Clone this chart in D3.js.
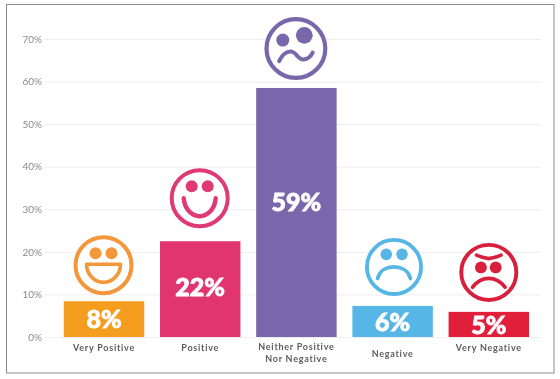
<!DOCTYPE html>
<html>
<head>
<meta charset="utf-8">
<script src="https://cdn.jsdelivr.net/npm/d3@7"></script>
<style>
	html, body {margin: 0; padding: 0; background: #fff;}
	svg {display: block; will-change: transform;}
	text {font-family: Lato, sans-serif;}
</style>
</head>
<body>
<svg id="chart" width="560" height="379"></svg>
<script>
var categories = ["Very Positive", "Positive", "Neither Positive\nNor Negative", "Negative", "Very Negative"];
var barValues = [8.4, 22.5, 58.5, 7.3, 5.9];
var valueLabels = ["8%", "22%", "59%", "6%", "5%"];
var yTicks = [0, 10, 20, 30, 40, 50, 60, 70];
var moods = ["grin", "smile", "wavy", "sad", "angry"];
var colours = ["#f59d1f", "#e0356f", "#7a66ab", "#56b6e6", "#e21f3a"];
var faceColours = ["#f3973a", "#df3a74", "#7a66ab", "#56b6e6", "#d8203c"];

var svg = d3.select("#chart");

//picture frame
svg.append("rect")
	.attr("x", 6.5).attr("y", 4.5)
	.attr("width", 547.5).attr("height", 368.5)
	.attr("fill", "#fff")
	.attr("stroke", "#8c8c8c")
	.attr("stroke-width", 1);

var x = d3.scaleBand()
	.domain(categories)
	.range([56.1, 536.7])
	.paddingInner(0.164)
	.paddingOuter(0.08);

var y = d3.scaleLinear()
	.domain([0, 70])
	.range([337, 39]);

var yAxis = d3.axisLeft(y)
	.tickValues(yTicks)
	.tickFormat(function(d) {return d + "%";})
	.tickSize(-496)
	.tickPadding(3);

var axis_g = svg.append("g")
	.attr("transform", "translate(45, 0)")
	.call(yAxis);
axis_g.select(".domain").remove();
axis_g.selectAll("line").attr("stroke", "#eeeef0");
axis_g.selectAll("text")
	.attr("fill", "#8a8a8a")
	.style("font-size", "10px");

svg.selectAll(".bar")
	.data(categories)
	.enter().append("rect")
		.attr("class", "bar")
		.attr("x", function(d) {return x(d);})
		.attr("y", function(d, i) {return y(barValues[i]);})
		.attr("width", x.bandwidth())
		.attr("height", function(d, i) {return y(0) - y(barValues[i]);})
		.attr("fill", function(d, i) {return colours[i];});

//value labels sit near the middle of the bar, the tall one higher up
var valueShift = [9, 7, -1.5, 10, 10];
svg.selectAll(".value")
	.data(categories)
	.enter().append("text")
		.attr("class", "value")
		.attr("x", function(d) {return x(d) + x.bandwidth() / 2;})
		.attr("y", function(d, i) {return (y(barValues[i]) + y(0)) / 2 + valueShift[i];})
		.attr("text-anchor", "middle")
		.attr("fill", "#fff")
		.attr("stroke", "#fff")
		.attr("stroke-width", 0.8)
		.style("font-size", "25px")
		.style("font-weight", 900)
		.text(function(d, i) {return valueLabels[i];});

var labelY = [351, 351, 350, 357, 351];
svg.selectAll(".category")
	.data(categories)
	.enter().append("text")
		.attr("class", "category")
		.attr("text-anchor", "middle")
		.attr("fill", "#5c5c5c")
		.style("font-size", "9px")
		.style("font-weight", 700)
		.style("letter-spacing", "0.75px")
		.each(function(d, i) {
			var sel = d3.select(this);
			d.split("\n").forEach(function(line, j) {
				sel.append("tspan")
					.attr("x", x(d) + x.bandwidth() / 2)
					.attr("y", labelY[i] + j * 11.5)
					.text(line);
			});
		});

function eyes(g, c, lx, ly, lr, rx, ry, rr) {
	g.append("circle").attr("cx", lx).attr("cy", ly).attr("r", lr).attr("fill", c);
	g.append("circle").attr("cx", rx).attr("cy", ry).attr("r", rr).attr("fill", c);
}

function stroke(g, c, d, width) {
	g.append("path")
		.attr("d", d)
		.attr("fill", "none")
		.attr("stroke", c)
		.attr("stroke-width", width)
		.attr("stroke-linecap", "round")
		.attr("stroke-linejoin", "round");
}

//faces are drawn around their own centre, radius about 30
var faceGap = [36, 43, 39.5, 39, 39.5];
var faceDx = [-0.5, -0.5, -0.5, 1.4, 0];
var faceR = [30, 30, 31.5, 29, 29.5];
var faceShapes = {
	grin: function(g, c) {
		eyes(g, c, -8, -12, 6, 8, -12, 6);
		stroke(g, c, "M-17,-1 H17 A17,18 0 0 1 -17,-1 Z", 3.6);
	},
	smile: function(g, c) {
		eyes(g, c, -8, -12, 6, 8, -12, 6);
		stroke(g, c, "M-16,0 C-15,11 -8,18 0,18 C8,18 15,11 16,0", 4.4);
	},
	wavy: function(g, c) {
		eyes(g, c, -12.5, -8, 6.2, 8, -12.5, 8);
		stroke(g, c, "M-16,12 C-13,6 -9,3 -5,3 C0,3 2,10.5 7,10.5 C11,10.5 14,8 16,4", 3.8);
	},
	sad: function(g, c) {
		eyes(g, c, -8, -13, 6, 8.3, -13, 6);
		stroke(g, c, "M-17,12 C-15,3 -7,0 0,0 C7,0 15,3 17,12", 3.8);
	},
	angry: function(g, c) {
		eyes(g, c, -8, -5, 6, 7, -5, 6);
		stroke(g, c, "M-12.5,-17.5 Q-6,-14.5 0,-14 Q6,-14.5 12.5,-17.5", 3.8);
		stroke(g, c, "M-16.5,15 C-12,9 -7,6 0,6 C7,6 12,9 16.5,15", 3.8);
	}
};

categories.forEach(function(d, i) {
	var g = svg.append("g")
		.attr("class", "face")
		.attr("transform", "translate(" + (x(d) + x.bandwidth() / 2 + faceDx[i]) + ", " +
			(y(barValues[i]) - faceGap[i]) + ") scale(" + (faceR[i] / 30) + ")");
	g.append("circle")
		.attr("r", 28)
		.attr("fill", "#fff")
		.attr("stroke", faceColours[i])
		.attr("stroke-width", 4);
	faceShapes[moods[i]](g, faceColours[i]);
});
</script>
</body>
</html>
